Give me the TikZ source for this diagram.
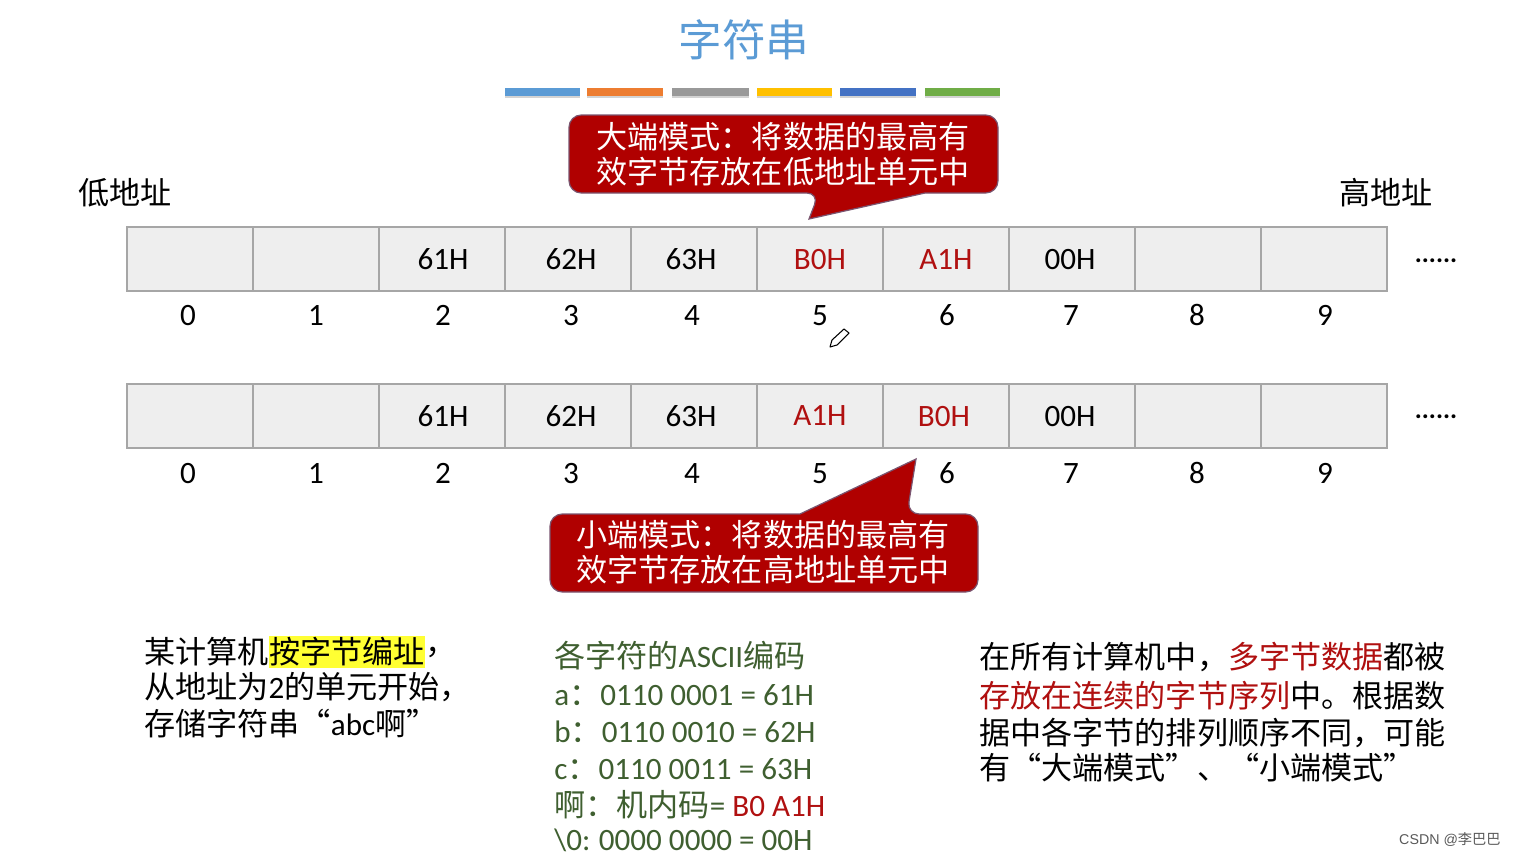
\documentclass[tikz,border=0pt]{standalone}
\usepackage{fontspec}
\setmainfont{Carlito}
\newfontfamily\cjk{Noto Sans CJK SC}
\newfontfamily\wmfont{Liberation Sans}
\usetikzlibrary{positioning, shadows}
\definecolor{cellfill}{HTML}{EEEEEE}
\definecolor{cellline}{HTML}{A6A6A6}
\definecolor{callred}{HTML}{B00000}
\definecolor{callline}{HTML}{7A5570}
\definecolor{titleblue}{HTML}{5B9BD5}
\definecolor{codegreen}{HTML}{3F5F30}
\definecolor{darkred}{HTML}{B01010}
\definecolor{hiyellow}{HTML}{FFFF33}
\newcommand{\zh}[1]{{\cjk #1}}
\newcommand{\fsbody}{\fontsize{17.7}{20}\selectfont}

\begin{document}
\begin{tikzpicture}[x=0.02cm, y=-0.02cm, font=\fsbody,
    cell/.style={draw=cellline, fill=cellfill, line width=0.9pt, minimum width=2.52cm, minimum height=1.28cm, inner sep=0pt},
    lab/.style={inner sep=0pt, text height=11.5pt, text depth=0pt},
    call/.style={fill=callred, draw=callline, line width=0.7pt},
    calltxt/.style={text=white, align=center, inner sep=0pt},
    txt/.style={anchor=west, inner sep=0pt}]
    \useasboundingbox (0,0) rectangle (1515,856);

    % title and colour bars
    \node[text=titleblue, font=\fontsize{24.8}{28}\selectfont\cjk] (title) at (744,40) {字符串};
    \foreach \xa/\xb/\col in {505/580/5B9BD5, 587/663/ED7D31, 672/749/999999, 757/832/FFC000, 840/916/4472C4, 925/1000/70AD47} {
      \definecolor{barcol}{HTML}{\col}
      \fill[barcol, drop shadow={opacity=0.35, shadow xshift=0pt, shadow yshift=-1.2pt}] (\xa,88) rectangle (\xb,96);
    }

    % memory rows
    \foreach \i in {0,...,9} {
      \node[cell] (u\i) at ({190+126*\i},259) {};
      \node[cell] (l\i) at ({190+126*\i},416) {};
    }
    \foreach \i/\x in {0/188, 1/316, 2/443, 3/571, 4/692, 5/820, 6/947, 7/1071, 8/1197, 9/1325} {
      \node[lab] (nu\i) at (\x,315.5) {\i};
      \node[lab] (nl\i) at (\x,473) {\i};
    }
    \node[lab] (a1) at (443,259) {61H};
    \node[lab] (a2) at (571,259) {62H};
    \node[lab] (a3) at (691,259) {63H};
    \node[lab, text=darkred] (a4) at (820,259) {B0H};
    \node[lab, text=darkred] (a5) at (946,259) {A1H};
    \node[lab] (a6) at (1070,259) {00H};
    \node[lab] (c1) at (443,416) {61H};
    \node[lab] (c2) at (571,416) {62H};
    \node[lab] (c3) at (691,416) {63H};
    \node[lab, text=darkred] (c4) at (820,415) {A1H};
    \node[lab, text=darkred] (c5) at (944,416) {B0H};
    \node[lab] (c6) at (1070,416) {00H};
    \node[font=\fontsize{15}{18}\selectfont] (dots1) at (1436,261) {\textbf{......}};
    \node[font=\fontsize{15}{18}\selectfont] (dots2) at (1436,417) {\textbf{......}};
    \node (low) at (125,193) {\zh{低地址}};
    \node (high) at (1386,193) {\zh{高地址}};

    % callouts
    \draw[call, rounded corners=7pt] (925,193) -- (998,193) -- (998,115) -- (569,115) -- (569,193) -- (819,193) [sharp corners] -- (809,219) -- cycle;
    \node[calltxt] (big) at (783,154) {\zh{大端模式：将数据的最高有}\\\zh{效字节存放在低地址单元中}};
    \draw[call, rounded corners=7pt] (800,514) -- (550,514) -- (550,592) -- (978,592) -- (978,514) -- (907,514) [sharp corners] -- (916,459) -- cycle;
    \node[calltxt] (small) at (763,552) {\zh{小端模式：将数据的最高有}\\\zh{效字节存放在高地址单元中}};

    % left text
    \node[txt] (s1) at (144,652) {\zh{某计算机}};
    \node[txt, right=0pt of s1, fill=hiyellow, minimum height=0.64cm] (s2) {\zh{按字节编址}};
    \node[txt, right=0pt of s2] (s3) {\zh{，}};
    \node[txt] (s4) at (144,687) {\zh{从地址为}2\zh{的单元开始，}};
    \node[txt] (s5) at (144,724) {\zh{存储字符串“}abc\zh{啊”}};

    % ascii table
    \begin{scope}[every node/.append style={text=codegreen}]
      \node[txt] (g1) at (554,656) {\zh{各字符的}ASCII\zh{编码}};
      \node[txt] (g2) at (554,695) {a\zh{：}0110 0001 = 61H};
      \node[txt] (g3) at (554,732) {b\zh{：}0110 0010 = 62H};
      \node[txt] (g4) at (554,769) {c\zh{：}0110 0011 = 63H};
      \node[txt] (g5) at (554,805) {\zh{啊：机内码}= \textcolor{darkred}{B0 A1H}};
      \node[txt] (g6) at (554,840) {\textbackslash 0:\hspace{-0.03em} 0000 0000 = 00H};
    \end{scope}

    % right text
    \node[txt] (r1) at (979,657) {\zh{在所有计算机中，\textcolor{darkred}{多字节数据}都被}};
    \node[txt] (r2) at (979,696) {\zh{\textcolor{darkred}{存放在连续的字节序列}中。根据数}};
    \node[txt] (r3) at (979,733) {\zh{据中各字节的排列顺序不同，可能}};
    \node[txt] (r4) at (979,768) {\zh{有“大端模式”、“小端模式”}};

    % pen cursor
    \draw[line width=0.6pt, fill=white, line join=round] (830,347) -- (832,340) -- (844,329) -- (849,333) -- (837,345) -- cycle;
    \node[text=black!65, font=\fontsize{8.1}{10}\selectfont\wmfont, anchor=east, inner sep=0pt] (mark) at (1501,839) {CSDN @\zh{李巴巴}};
\end{tikzpicture}
\end{document}
